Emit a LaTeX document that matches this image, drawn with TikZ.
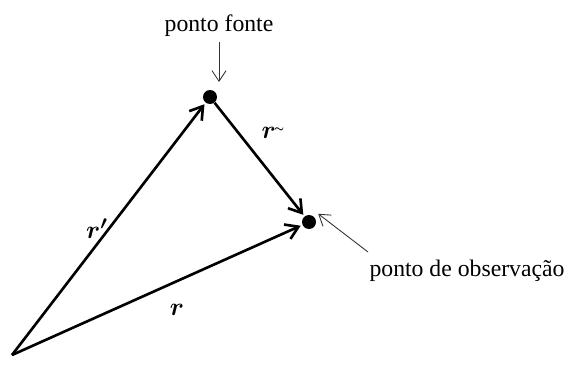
\documentclass[tikz,border=0pt]{standalone}
\usepackage{amsmath}
\usepackage{bm}
\usepackage{fontspec}
\setmainfont{Liberation Serif}
\usetikzlibrary{arrows.meta,positioning,calc}

\begin{document}
\begin{tikzpicture}[
    x=0.02cm, y=-0.02cm,
    every node/.style={font=\fontsize{13.5}{16}\selectfont},
    pointdot/.style={circle, fill=black, inner sep=0pt, minimum size=0.28cm},
    vecarr/.style={-{Straight Barb[length=7pt, width=9pt]}, line width=1.5pt, black, shorten >=1pt},
    notearr/.style={-{Straight Barb[length=6pt, width=8pt]}, line width=0.5pt, black!80},
    veclabel/.style={font=\fontsize{15}{17}\selectfont}
  ]
    \useasboundingbox (0,0) rectangle (571,365);

    % Points
    \coordinate (origin) at (12,355);
    \node[pointdot] (source) at (210,97) {};
    \node[pointdot] (obs) at (309,222) {};

    % Notes
    \node (srclabel) at (219,26) {ponto fonte};
    \node (obslabel) at (467,271) {ponto de observação};
    \coordinate (srcnote) at (219,42);
    \coordinate (srctip) at (219,82);
    \coordinate (obsnote) at (368,252);

    % Vectors
    \draw[vecarr] (origin) -- (source);
    \draw[vecarr] (origin) -- (obs);
    \draw[vecarr] (source) -- (obs);

    % Labels
    \node[veclabel] (rprime) at (97,229) {$\bm{r'}$};
    \node[veclabel] (rvec) at (177,310) {$\bm{r}$};
    \node[veclabel] (sepvec) at (273,133) {$\bm{r}$\kern-1pt\raisebox{4pt}{\tiny$\bm{\sim}$}};

    % Pointers
    \draw[notearr] (srcnote) -- (srctip);
    \draw[notearr] (obsnote) -- ([shift={(0.08cm,0.06cm)}]obs.north east);
  \end{tikzpicture}
\end{document}
